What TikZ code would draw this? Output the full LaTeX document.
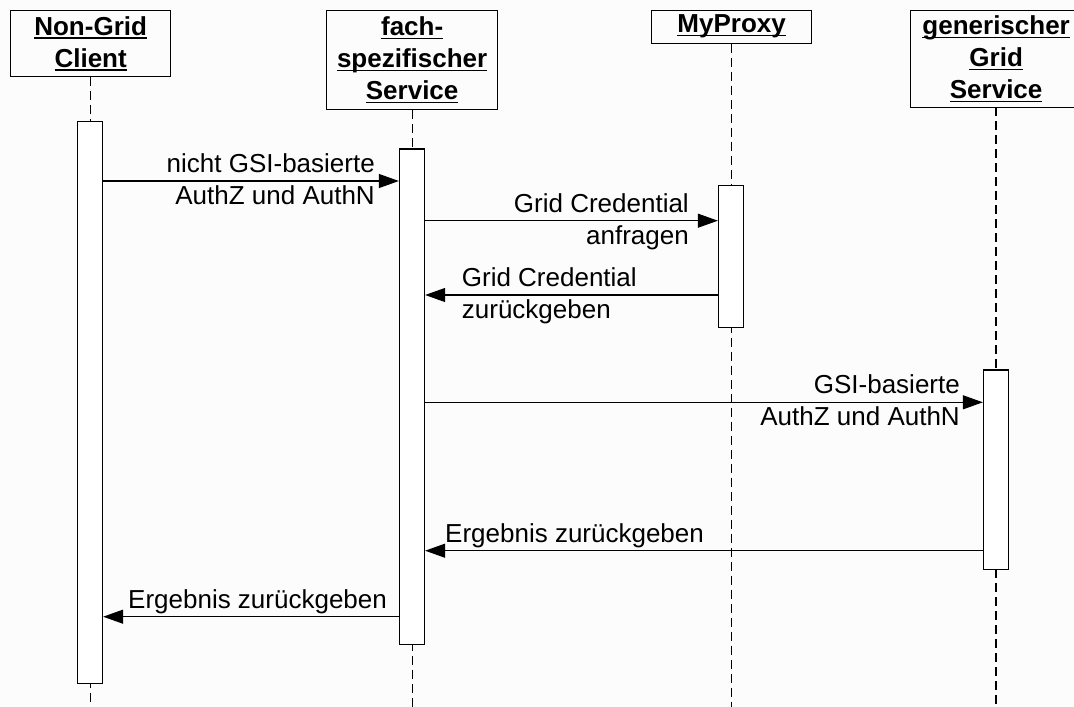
\documentclass[tikz,border=0pt]{standalone}
\usepackage{fontspec}
\setmainfont{Liberation Sans}
\usetikzlibrary{arrows.meta}
\definecolor{bgcol}{RGB}{252,252,252}
% underline at a fixed distance below the baseline (crosses descenders)
\newcommand\hdul[1]{\setbox0\hbox{#1}\rlap{\rule[-3.5pt]{\wd0}{1.3pt}}\box0}
\begin{document}
\begin{tikzpicture}[x=1pt,y=-1pt,
  hdr/.style={draw, line width=1.3pt, inner sep=0pt, align=center, anchor=north west,
    font=\bfseries\fontsize{26}{32}\selectfont},
  act/.style={draw, line width=1.3pt, fill=white, inner sep=0pt, anchor=north,
    minimum width=25pt},
  life/.style={line width=1.1pt, dash pattern=on 9pt off 5pt},
  msg/.style={line width=1.1pt, -{Triangle[length=20pt,width=14pt]}},
  lbl/.style={inner sep=0pt, font=\fontsize{26}{32}\selectfont},
]
\useasboundingbox (0,0) rectangle (1074,707);
\fill[bgcol] (0,0) rectangle (1074,707);
\clip (0,0) rectangle (1074,707);

% object boxes
\node[hdr, minimum width=160pt, minimum height=66.5pt] (client) at (10,9.5)
  {\hdul{Non-Grid}\\\hdul{Client}};
\node[hdr, minimum width=171pt, minimum height=99.5pt] (fach) at (326,9.5)
  {\hdul{fach-}\\\hdul{spezifischer}\\\hdul{Service}};
\node[hdr, minimum width=160pt, minimum height=33pt] (proxy) at (651,9.5)
  {\hdul{MyProxy}};
\node[hdr, minimum width=171pt, minimum height=97.5pt] (grid) at (910,9.5)
  {\hdul{generischer}\\\hdul{Grid}\\\hdul{Service}};

% lifelines
\coordinate (bot) at (0,707);
\foreach \o in {client,fach,proxy}
  \draw[life] (\o.south) -- (\o.south |- bot);
\coordinate (gtop) at (996,107);
\draw[life] (gtop) -- (gtop |- bot);

% activations
\node[act, minimum height=562pt]   (cact) at (90,120.7) {};
\node[act, minimum height=495.4pt] (fact) at (412,148.3) {};
\node[act, minimum height=141.7pt] (pact) at (731,185) {};
\node[act, minimum height=199.7pt] (gact) at (996,369.3) {};

% message levels
\coordinate (m1) at (0,181);
\coordinate (m2) at (0,220.7);
\coordinate (m3) at (0,295);
\coordinate (m4) at (0,402.3);
\coordinate (m5) at (0,550.7);
\coordinate (m6) at (0,616.7);

\draw[msg] (cact.east |- m1) -- (fact.west |- m1);
\draw[msg] (fact.east |- m2) -- (pact.west |- m2);
\draw[msg] (pact.west |- m3) -- (fact.east |- m3);
\draw[msg] (fact.east |- m4) -- (gact.west |- m4);
\draw[msg] (gact.west |- m5) -- (fact.east |- m5);
\draw[msg] (fact.west |- m6) -- (cact.east |- m6);

% message texts
\node[lbl, anchor=north east, align=right] (t1) at (375,153.4)
  {nicht GSI-basierte\\AuthZ und AuthN};
\node[lbl, anchor=north east, align=right] (t2) at (689,193.1)
  {Grid Credential\\anfragen};
\node[lbl, anchor=north west, align=left] (t3) at (461.7,267.4)
  {Grid Credential\\zurückgeben};
\node[lbl, anchor=north east, align=right] (t4) at (960,374.7)
  {GSI-basierte\\AuthZ und AuthN};
\node[lbl, anchor=north west, align=left] (t5) at (445,523.1)
  {Ergebnis zurückgeben};
\node[lbl, anchor=north west, align=left] (t6) at (128,589.1)
  {Ergebnis zurückgeben};
\end{tikzpicture}
\end{document}
